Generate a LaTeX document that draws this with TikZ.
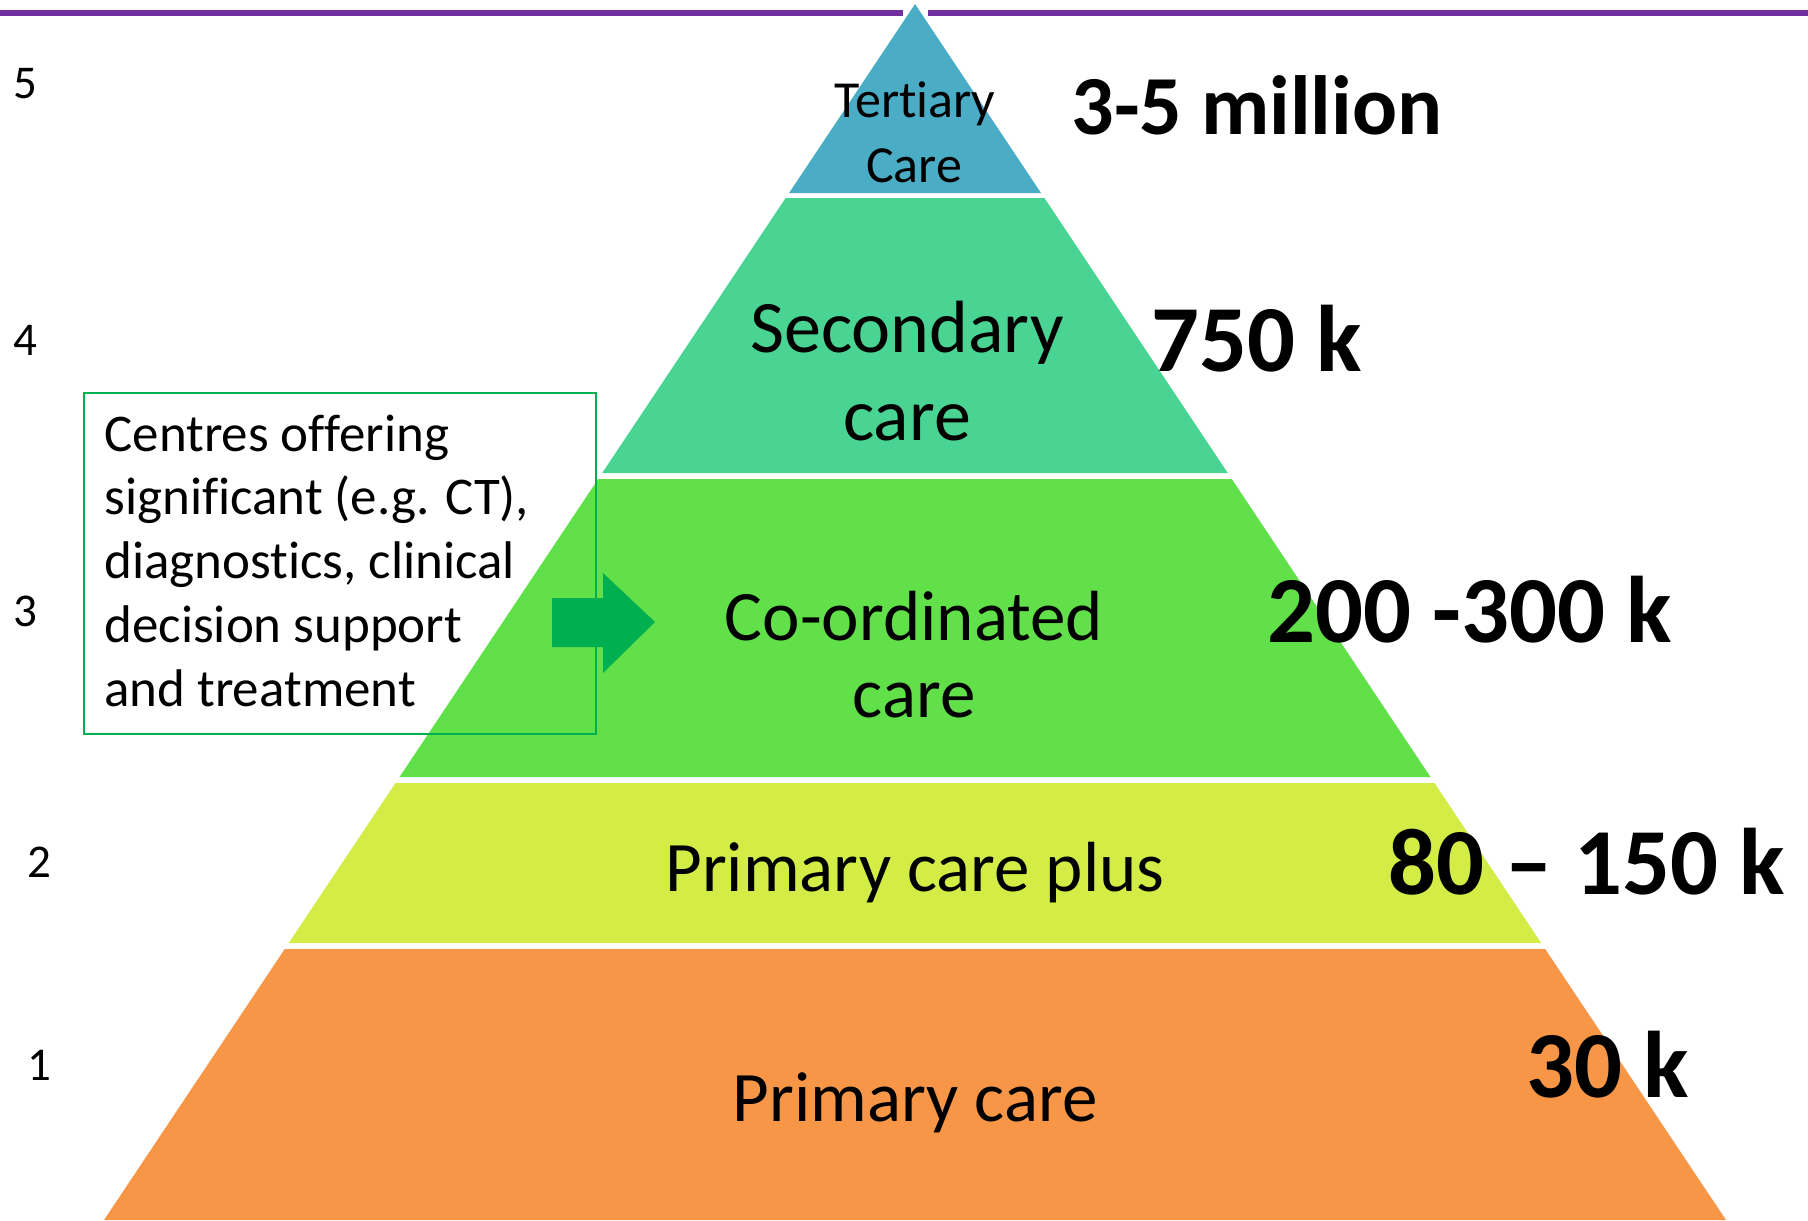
\documentclass[tikz,border=0pt]{standalone}
\usepackage{fontspec}
\setmainfont{Carlito}[Ligatures=NoCommon]
\definecolor{purpleline}{HTML}{7030A0}
\definecolor{tertc}{HTML}{4BACC6}
\definecolor{secc}{HTML}{4AD493}
\definecolor{coorc}{HTML}{62E04A}
\definecolor{pplusc}{HTML}{D4EC46}
\definecolor{primc}{HTML}{F79646}
\definecolor{boxgreen}{HTML}{00B050}
\begin{document}
\begin{tikzpicture}[x=0.5pt,y=-0.5pt,
  lvl/.style={inner sep=0pt, anchor=base west, font=\fontsize{23.5}{28}\selectfont},
  tierlbl/.style={inner sep=0pt, anchor=base},
  num/.style={inner sep=0pt, anchor=base west, font=\bfseries\fontsize{47.3}{56}\selectfont},
  boxtxt/.style={inner sep=0pt, anchor=base west, font=\fontsize{26.5}{32}\selectfont}]
\useasboundingbox (0,0) rectangle (1808,1220);
\fill[white] (0,0) rectangle (1808,1220);
% top purple line
\coordinate (pl1) at (0,13);
\coordinate (pl2) at (903,13);
\coordinate (pl3) at (928,13);
\coordinate (pl4) at (1808,13);
\draw[purpleline, line width=2.6pt] (pl1) -- (pl2);
\draw[purpleline, line width=2.6pt] (pl3) -- (pl4);
% pyramid layers
\fill[tertc]  (915,4) -- (1041,193) -- (789,193) -- cycle;
\fill[secc]   (785.6,198) -- (1044.4,198) -- (1227.8,473) -- (602.2,473) -- cycle;
\fill[coorc]  (598.2,479) -- (1231.8,479) -- (1430.5,777) -- (399.5,777) -- cycle;
\fill[pplusc] (395.5,783) -- (1434.5,783) -- (1541.2,943) -- (288.8,943) -- cycle;
\fill[primc]  (284.8,949) -- (1545.2,949) -- (1726,1220) -- (104,1220) -- cycle;
% tier labels
\node[tierlbl, font=\fontsize{26}{31}\selectfont] (tert1) at (915,118) {Tertiary};
\node[tierlbl, font=\fontsize{26}{31}\selectfont] (tert2) at (914,182) {Care};
\node[tierlbl, font=\fontsize{37}{44}\selectfont] (sec1) at (907,352) {Secondary};
\node[tierlbl, font=\fontsize{37}{44}\selectfont] (sec2) at (907,440) {care};
\node[tierlbl, font=\fontsize{35.5}{42}\selectfont] (coor1) at (914,640) {Co-ordinated};
\node[tierlbl, font=\fontsize{35.5}{42}\selectfont] (coor2) at (914,717) {care};
\node[tierlbl, font=\fontsize{35.5}{42}\selectfont] (pplus) at (915,891) {Primary care plus};
\node[tierlbl, font=\fontsize{35.5}{42}\selectfont] (prim) at (915,1121) {Primary care};
% population numbers
\node[num, font=\bfseries\fontsize{42}{50}\selectfont] (n5) at (1071,134) {3-5 million};
\node[num] (n4) at (1151,371) {750 k};
\node[num] (n3) at (1267,642) {200 -300 k};
\node[num] (n2) at (1388,894) {80 – 150 k};
\node[num] (n1) at (1526,1097) {30 k};
% level numbers
\node[lvl] (l5) at (13,98) {5};
\node[lvl] (l4) at (13,355) {4};
\node[lvl] (l3) at (13,626) {3};
\node[lvl] (l2) at (27,877) {2};
\node[lvl] (l1) at (27,1080) {1};
% box
\node[draw=boxgreen, line width=0.75pt, anchor=north west, inner sep=0pt,
      minimum width=256pt, minimum height=170.5pt] (box) at (83,392) {};
\node[boxtxt] (b1) at (104,451) {Centres offering};
\node[boxtxt] (b2) at (104,514) {significant (e.g. CT),};
\node[boxtxt] (b3) at (104,578) {diagnostics, clinical};
\node[boxtxt] (b4) at (104,642) {decision support};
\node[boxtxt] (b5) at (104,706) {and treatment};
% arrow
\fill[boxgreen] (552,598) -- (603,598) -- (603,573) -- (655,622) -- (603,673) -- (603,647) -- (552,647) -- cycle;
\end{tikzpicture}
\end{document}
